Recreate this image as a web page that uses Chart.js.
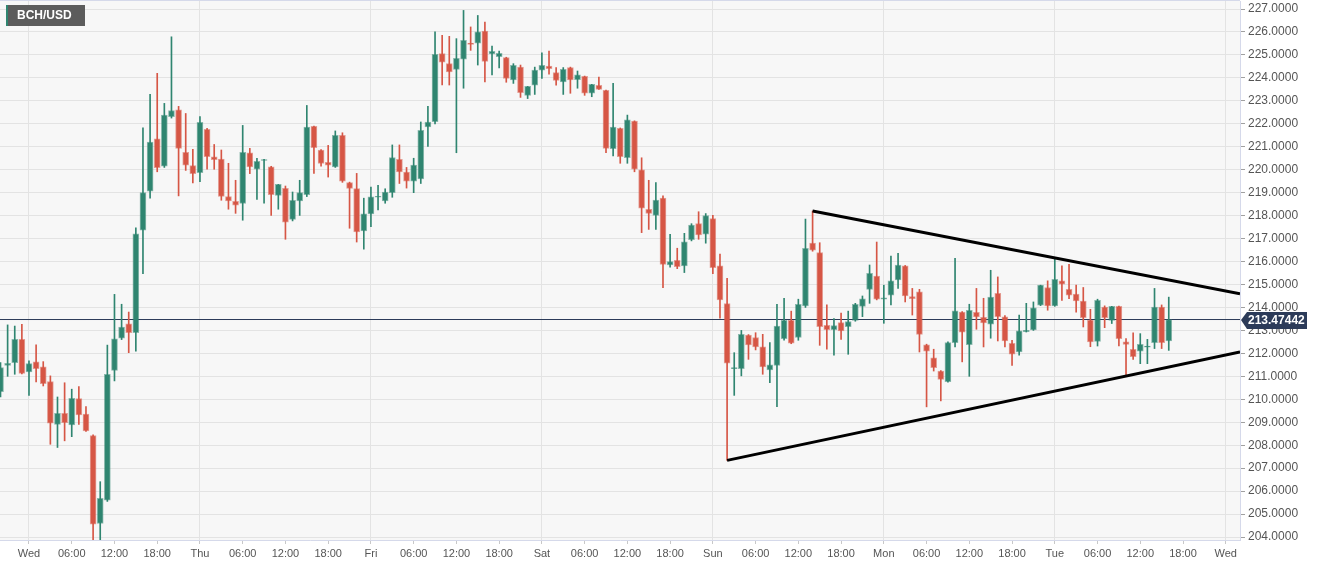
<!DOCTYPE html>
<html><head><meta charset="utf-8">
<script src="https://cdn.jsdelivr.net/npm/chart.js@4/dist/chart.umd.min.js"></script>
<style>html,body{margin:0;padding:0;background:#fff;overflow:hidden;}#wrap{position:relative;width:1331px;height:566px;}canvas{display:block;}</style>
</head><body><div id="wrap"><canvas id="c" width="1331" height="566" style="width:1331px;height:566px"></canvas></div>
<script>
const symbolName = 'BCH/USD';
const firstHour = -4;
const openP = [210.33,211.48,211.6,212.61,211.19,211.63,211.41,210.77,208.91,209.39,208.88,210.03,209.35,208.42,204.59,205.61,211.26,212.66,213.29,212.9,
217.37,219.07,221.35,220.16,222.31,222.61,220.76,220.18,219.87,221.76,220.56,220.46,218.83,218.62,218.53,220.74,220.02,220.4,220.13,218.88,
219.19,217.84,218.64,218.91,221.89,220.86,220.32,220.12,221.5,219.44,219.18,217.33,218.08,218.8,218.64,219.0,220.45,219.9,219.5,219.6,
221.86,222.09,225.06,224.62,224.37,224.82,225.52,225.51,226.04,225.05,224.92,224.88,223.91,224.47,223.24,223.68,224.34,224.52,224.23,223.83,
224.45,223.92,224.07,223.33,223.68,223.46,220.92,221.8,220.53,222.12,220.0,218.28,218.01,218.76,215.85,216.05,215.81,216.95,217.65,217.19,
217.87,215.81,214.17,211.33,211.33,212.8,212.69,212.28,211.28,211.48,212.64,213.44,212.69,214.07,216.8,216.39,213.22,213.03,213.34,213.16,
213.44,214.05,214.79,215.37,214.36,214.53,215.2,215.81,214.47,214.68,212.37,211.81,211.23,210.77,212.47,213.8,212.38,213.79,213.57,213.27,
214.62,213.59,212.44,212.06,212.95,213.02,214.1,214.87,214.07,215.16,214.79,214.58,214.28,213.45,212.52,214.02,213.44,214.05,212.5,212.18,
212.1,212.27,212.47,214.02,212.54];
const highP = [211.6,213.24,213.19,213.27,211.67,212.37,211.64,211.02,210.1,210.72,210.44,210.55,209.68,208.45,206.41,212.36,214.57,214.14,213.8,217.47,
221.83,223.28,224.2,222.89,225.79,222.76,222.45,220.89,222.32,221.8,221.1,220.86,220.28,219.54,221.93,220.93,220.5,220.45,220.15,219.36,
219.29,219.03,219.54,222.8,221.9,220.88,221.06,221.69,221.61,219.46,219.84,218.76,219.24,219.32,219.17,221.08,221.08,220.1,220.5,222.08,
222.76,226.01,225.85,225.81,225.71,226.94,226.22,226.72,226.43,225.39,225.17,224.9,224.62,224.56,223.63,224.47,225.09,225.17,224.45,224.45,
224.47,224.3,224.08,223.72,224.04,223.47,223.76,221.82,222.38,222.13,220.52,219.54,219.44,218.86,217.19,216.58,217.23,217.65,218.17,218.09,
218.01,216.32,215.27,212.03,213.0,212.82,212.9,212.83,212.47,214.14,214.4,213.84,214.36,217.85,218.2,216.82,214.11,213.52,213.75,213.84,
214.18,214.5,215.85,216.85,214.97,216.24,216.36,215.83,214.83,214.79,212.4,212.18,211.25,212.5,216.14,213.82,214.14,214.83,214.4,215.62,
215.33,213.65,212.57,213.67,214.18,214.24,214.97,215.16,216.14,215.81,215.88,214.97,214.87,213.92,214.36,214.07,214.05,214.06,212.64,212.9,
212.86,212.61,214.83,214.11,214.45];
const lowP = [210.1,211.0,211.09,211.1,210.17,210.76,210.58,208.04,207.9,208.19,208.37,208.91,208.6,203.85,203.83,205.55,210.8,212.6,212.03,212.1,
215.47,218.76,219.91,220.1,222.25,218.86,219.97,219.42,219.48,220.02,220.02,218.67,218.28,218.1,217.8,219.83,218.71,218.54,218.01,218.28,
216.97,217.77,218.01,218.83,219.84,220.15,219.68,220.1,219.45,217.45,216.85,216.54,217.52,218.25,218.54,218.8,219.4,219.2,219.0,219.4,
221.02,222.0,223.69,223.69,220.74,223.55,225.2,224.56,223.83,224.13,224.44,223.81,223.76,223.15,223.1,223.28,223.98,224.16,223.68,223.28,
223.33,223.55,223.24,223.18,223.5,220.74,220.6,220.28,220.28,219.91,217.26,217.4,217.4,214.86,215.76,215.69,215.52,216.9,216.97,216.8,
215.47,213.53,207.34,210.17,211.02,211.74,212.15,211.09,210.72,209.68,212.57,212.42,212.57,214.0,216.45,212.35,212.18,211.92,212.61,211.96,
213.4,213.6,214.18,214.33,213.31,214.11,214.83,214.24,213.67,212.06,209.67,211.23,209.93,210.75,212.28,211.63,211.0,213.05,212.28,212.66,
212.54,212.28,211.48,211.92,212.93,213.0,214.08,213.88,214.05,214.31,214.38,213.8,213.15,212.29,212.32,213.12,213.3,212.32,211.05,211.74,
211.55,211.55,212.21,212.21,212.13];
const closeP = [211.38,211.57,212.61,211.13,211.55,211.33,210.68,208.96,209.39,208.98,210.04,209.32,208.62,204.56,205.69,211.09,212.63,213.14,212.9,217.21,
219.0,221.2,220.09,222.38,222.58,220.93,220.2,219.83,222.06,220.57,220.44,218.84,218.64,218.46,220.76,220.12,220.37,220.43,218.91,219.36,
217.72,218.67,219.0,221.86,220.96,220.27,220.2,221.5,219.5,219.19,217.29,218.08,218.82,218.83,219.03,220.53,219.9,219.5,220.2,221.72,
222.08,225.03,224.69,224.26,224.85,225.64,225.46,226.01,224.72,225.16,225.07,223.98,224.55,223.36,223.63,224.34,224.55,224.4,223.89,224.37,
223.91,224.13,223.33,223.72,223.5,220.93,221.86,220.57,222.17,220.02,218.32,218.1,218.68,215.88,216.0,215.78,216.86,217.59,217.16,218.0,
215.73,214.33,211.57,211.38,212.83,212.37,212.28,211.41,211.5,213.19,213.44,212.44,214.14,216.58,216.5,213.16,213.03,213.21,212.98,213.39,
214.14,214.38,215.49,214.36,214.42,215.16,215.85,214.5,214.38,212.83,212.1,211.38,210.87,212.47,213.85,212.92,213.88,213.59,213.33,214.45,
213.6,212.54,211.96,212.98,213.0,213.98,214.97,214.07,215.23,215.01,214.54,214.28,213.56,212.5,214.31,213.55,214.05,212.64,212.39,211.86,
212.39,212.31,214.02,212.47,213.47];
const dayNames = ['Wed','Thu','Fri','Sat','Sun','Mon','Tue','Wed'];
const hourNames = ['06:00','12:00','18:00'];
const yTickValues = [204,205,206,207,208,209,210,211,212,213,214,215,216,217,218,219,220,221,222,223,224,225,226,227];
const lastPrice = 213.47442;
const upperTrendX = [110, 170];
const upperTrendY = [218.2, 214.6];
const lowerTrendX = [98, 170];
const lowerTrendY = [207.34, 212.06];

const GREEN = '#2f8570', RED = '#d65645';
const GREEN_EDGE = 'rgba(47,133,112,0.55)', RED_EDGE = 'rgba(214,86,69,0.55)';
const hours = openP.map((_, i) => firstHour + i);
const isUp = openP.map((o, i) => closeP[i] >= o);
const xMin = -4.07, xMax = 170;

const bgPlugin = {
  id: 'bg',
  beforeDraw(chart) {
    const {ctx, chartArea: a} = chart;
    ctx.save();
    ctx.fillStyle = '#ffffff';
    ctx.fillRect(0, 0, chart.width, chart.height);
    ctx.fillStyle = '#f7f7f7';
    ctx.fillRect(a.left, a.top, a.right - a.left, a.bottom - a.top);
    ctx.restore();
  },
  afterDraw(chart) {
    const {ctx, chartArea: a, scales} = chart;
    ctx.save();
    ctx.fillStyle = '#d5d9ea';
    ctx.fillRect(0, 0, a.right, 1);
    const y = Math.round(scales.y.getPixelForValue(lastPrice));
    const x0 = a.right + 1;
    ctx.fillStyle = '#2c3b59';
    ctx.beginPath();
    ctx.moveTo(x0, y);
    ctx.lineTo(x0 + 6, y - 8);
    ctx.lineTo(x0 + 66, y - 8);
    ctx.lineTo(x0 + 66, y + 9);
    ctx.lineTo(x0 + 6, y + 9);
    ctx.closePath();
    ctx.fill();
    ctx.fillStyle = '#ffffff';
    ctx.font = 'bold 12px "Liberation Sans", Arial, sans-serif';
    ctx.textAlign = 'left';
    ctx.textBaseline = 'middle';
    ctx.fillText(lastPrice.toFixed(5), x0 + 7, y + 1);
    ctx.fillStyle = '#5c5c5c';
    ctx.fillRect(6, 5, 79, 21);
    ctx.fillStyle = GREEN;
    ctx.fillRect(6, 5, 2, 21);
    ctx.fillStyle = '#ffffff';
    ctx.font = 'bold 12px "Liberation Sans", Arial, sans-serif';
    ctx.fillText(symbolName, 17, 16);
    ctx.restore();
  }
};

new Chart(document.getElementById('c'), {
  type: 'bar',
  data: {
    datasets: [
      {
        type: 'line', order: 0,
        data: upperTrendX.map((x, i) => ({x, y: upperTrendY[i]})),
        borderColor: '#000', borderWidth: 3, pointRadius: 0, fill: false
      },
      {
        type: 'line', order: 0,
        data: lowerTrendX.map((x, i) => ({x, y: lowerTrendY[i]})),
        borderColor: '#000', borderWidth: 3, pointRadius: 0, fill: false
      },
      {
        type: 'bar', order: 1, grouped: false,
        data: hours.map((h, i) => ({x: h, y: [openP[i], closeP[i]]})),
        backgroundColor: isUp.map(u => u ? GREEN : RED),
        borderColor: isUp.map(u => u ? GREEN_EDGE : RED_EDGE),
        borderWidth: 1, borderSkipped: false, barThickness: 6, minBarLength: 1
      },
      {
        type: 'bar', order: 2, grouped: false,
        data: hours.map((h, i) => ({x: h, y: [lowP[i], highP[i]]})),
        backgroundColor: isUp.map(u => u ? GREEN : RED),
        borderWidth: 0, barThickness: 1
      },
      {
        type: 'line', order: 3,
        data: [{x: xMin, y: lastPrice}, {x: xMax, y: lastPrice}],
        borderColor: '#2c3b59', borderWidth: 1, pointRadius: 0, fill: false
      }
    ]
  },
  options: {
    responsive: false,
    animation: false,
    devicePixelRatio: 1,
    layout: {padding: {top: 1, left: 0, right: 0, bottom: 0}},
    plugins: {legend: {display: false}, tooltip: {enabled: false}},
    scales: {
      x: {
        type: 'linear', min: xMin, max: xMax, offset: false,
        afterBuildTicks(s) {
          const t = [];
          for (let v = 0; v <= 168; v += 6) t.push({value: v});
          s.ticks = t;
        },
        afterFit(s) { s.height = 26; s.paddingLeft = 0; s.paddingRight = 0; },
        grid: {
          offset: false,
          color: c => (c.tick && c.tick.value % 24 === 0) ? '#e3e3e3' : 'rgba(0,0,0,0)',
          tickColor: '#c8c8c8', tickLength: 4, drawOnChartArea: true
        },
        border: {display: true, color: '#d5d9ea'},
        ticks: {
          autoSkip: false, maxRotation: 0, padding: 3, color: '#555',
          font: {family: '"Liberation Sans", Arial, sans-serif', size: 11},
          callback: v => (v % 24 === 0) ? dayNames[v / 24] : hourNames[(v % 24) / 6 - 1]
        }
      },
      y: {
        type: 'linear', position: 'right', min: 203.87, max: 227.35,
        afterBuildTicks(s) { s.ticks = yTickValues.map(v => ({value: v})); },
        afterFit(s) { s.width = 91; s.paddingTop = 0; s.paddingBottom = 0; },
        grid: {color: '#e3e3e3', tickColor: '#a0a0a0', tickLength: 5},
        border: {display: true, color: '#d5d9ea'},
        ticks: {
          autoSkip: false, color: '#555', padding: 3,
          font: {family: '"Liberation Sans", Arial, sans-serif', size: 12},
          callback: v => v.toFixed(4)
        }
      }
    }
  },
  plugins: [bgPlugin]
});
</script></body></html>
